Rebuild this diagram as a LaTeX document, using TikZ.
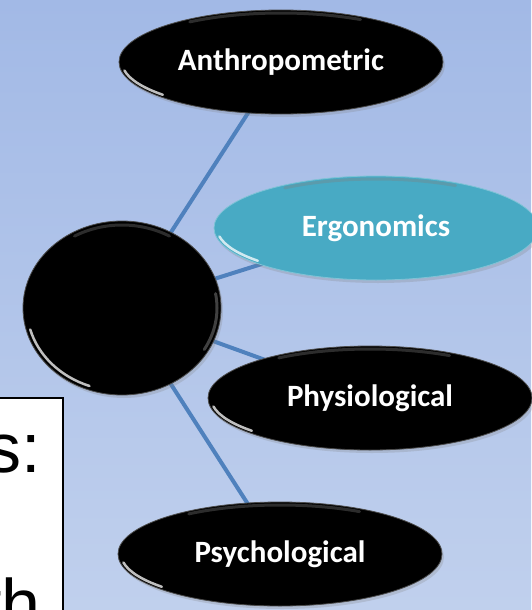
\documentclass[tikz,border=0pt]{standalone}
\usepackage{fontspec}
\setmainfont{Liberation Sans}
\newfontfamily\labelfont{Carlito}
\usetikzlibrary{shapes.geometric,shadows}
\definecolor{bgtop}{RGB}{162,185,230}
\definecolor{bgbot}{RGB}{192,208,237}
\definecolor{linkblue}{RGB}{79,129,189}
\definecolor{aqua}{RGB}{72,170,196}
\tikzset{
  link/.style={draw=linkblue, line width=4pt},
  blob/.style={ellipse, minimum width=324pt, minimum height=104pt, inner sep=0pt,
    fill=black, draw=black!70, line width=0.8pt, text=white,
    font=\labelfont\bfseries\fontsize{31}{34}\selectfont,
    drop shadow={shadow xshift=2pt, shadow yshift=-3pt, opacity=0.25}},
  aquablob/.style={blob, fill=aqua, draw=aqua!70!white},
  hub/.style={ellipse, minimum width=198pt, minimum height=174pt, inner sep=0pt,
    fill=black, draw=black!70, line width=0.8pt,
    drop shadow={shadow xshift=2pt, shadow yshift=-3pt, opacity=0.25}},
  shine/.style={draw=white, line width=2.5pt, line cap=round, opacity=0.75},
  topsheen/.style={draw=gray, line width=3pt, line cap=round, opacity=0.35},
  boxtext/.style={font=\fontsize{70}{70}\selectfont, inner sep=0pt}
}
\begin{document}
\begin{tikzpicture}[x=1pt,y=-1pt]
\useasboundingbox (0,0) rectangle (531,610);
\shade[top color=bgtop, bottom color=bgbot] (0,0) rectangle (531,610);
% node positions
\coordinate (hc) at (122,308);
\coordinate (ac) at (281,62);
\coordinate (ec) at (376,228);
\coordinate (pc) at (370,398);
\coordinate (sc) at (280,554);
% connectors (behind the nodes)
\draw[link] (hc) -- (ac);
\draw[link] (hc) -- (ec);
\draw[link] (hc) -- (pc);
\draw[link] (hc) -- (sc);
% nodes
\node[hub] (hub) at (hc) {};
\node[blob] (anthro) at (ac) {Anthropometric};
\node[aquablob] (ergo) at (ec) {Ergonomics};
\node[blob] (physio) at (pc) {Physiological};
\node[blob] (psycho) at (sc) {Psychological};
% glossy highlights
\foreach \n in {anthro,ergo,physio,psycho}{
  \path (\n.center) ++(190:159pt and 49pt) coordinate (s1);
  \draw[shine] (s1) arc[start angle=190, end angle=222, x radius=159pt, y radius=49pt];
  \path (\n.center) ++(60:159pt and 49pt) coordinate (s2);
  \draw[topsheen] (s2) arc[start angle=60, end angle=125, x radius=159pt, y radius=49pt];
}
\path (hub.center) ++(195:95pt and 83pt) coordinate (h1);
\draw[shine] (h1) arc[start angle=195, end angle=250, x radius=95pt, y radius=83pt];
\path (hub.center) ++(60:95pt and 83pt) coordinate (h2);
\draw[topsheen] (h2) arc[start angle=60, end angle=120, x radius=95pt, y radius=83pt];
\path (hub.center) ++(10:95pt and 83pt) coordinate (h3);
\draw[topsheen, opacity=0.5] (h3) arc[start angle=10, end angle=-30, x radius=95pt, y radius=83pt];
% text box at lower left
\begin{scope}
\clip (0,397) rectangle (64,610);
\node[draw=black, line width=2pt, fill=white, minimum width=80pt, minimum height=216pt, anchor=north east, inner sep=0pt] (box) at (64,397) {};
\node[boxtext, anchor=base east] (t1) at (41,472) {s:};
\node[boxtext, anchor=base east] (t2) at (41,628) {th};
\end{scope}
\end{tikzpicture}
\end{document}
